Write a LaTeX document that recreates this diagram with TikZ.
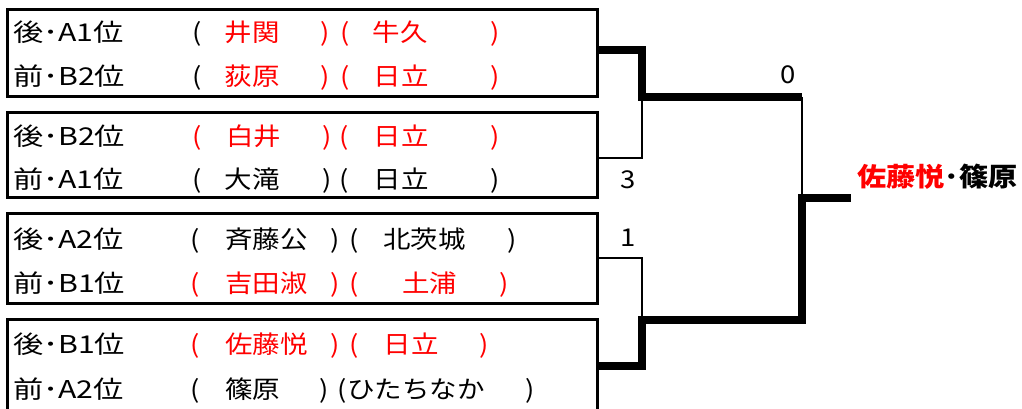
\documentclass[tikz,border=0pt]{standalone}
\usepackage{fontspec}
\usepackage{graphicx}
\setmainfont{Noto Sans CJK JP}[FakeStretch=1.12]
\usetikzlibrary{calc}
\definecolor{jred}{RGB}{255,0,0}
\newcommand{\widelab}[1]{\scalebox{1.1}[1]{#1}}
\begin{document}
\begin{tikzpicture}[x=0.75pt,y=-0.75pt,
  t/.style={inner sep=0pt, outer sep=0pt, text height=16.5pt, text depth=2.25pt, font=\fontsize{18.4pt}{22pt}\selectfont},
  lab/.style={t, anchor=west},
  r/.style={text=jred},
  box/.style={draw, line width=2.25pt, inner sep=0pt, outer sep=0pt, minimum width=442.5pt, anchor=north west},
  win/.style={line width=6pt},
  thinl/.style={line width=1.9pt}]
\useasboundingbox (0,0) rectangle (1022,409);
% boxes
\node[box, minimum height=65.25pt] (b1) at (7,10) {};
\node[box, minimum height=63.75pt] (b2) at (7,113) {};
\node[box, minimum height=67.5pt] (b3) at (7,214) {};
\node[box, minimum height=69pt] (b4) at (7,320) {};
% junctions
\coordinate (j1) at (642,97);
\coordinate (j2) at (642,320);
\coordinate (f1) at (802,97);
\coordinate (f2) at (802,320);
\coordinate (fm) at (802,198);
\coordinate (out) at (851,198);
% connectors
\draw[thinl] ($(b2.east)+(0,2.5)$) -| (j1);
\draw[thinl] ($(b3.east)+(0,-1)$) -| (j2);
\draw[thinl] (f1) -- (fm);
\draw[win] ($(b1.east)+(0,-3.5)$) -| (j1) -- (f1);
\draw[win] (b4.east) -| (j2) -- (f2) -- (fm) -- (out);
% scores
\node[t] (s0) at (788,74) {0};
\node[t] (s3) at (628,179) {3};
\node[t] (s1) at (628,237) {1};
% winner
\node[t, font=\fontsize{19.5pt}{24pt}\selectfont\bfseries] (w) at (937.5,177.5) {\textcolor{jred}{佐藤悦}･篠原};
% box 1
\node[lab] (r11l) at (13,32) {\widelab{後･A1位}};
\node[t] (r11a) at (197.5,32) {(};
\node[t,r] (r11n) at (252,32) {井関};
\node[t,r] (r11c) at (325.5,32) {)};
\node[t,r] (r11o) at (345.5,32) {(};
\node[t,r] (r11s) at (400,32) {牛久};
\node[t,r] (r11e) at (495,32) {)};
\node[lab] (r12l) at (13,76) {\widelab{前･B2位}};
\node[t] (r12a) at (197.5,76) {(};
\node[t,r] (r12n) at (252,76) {荻原};
\node[t,r] (r12c) at (325.5,76) {)};
\node[t,r] (r12o) at (345.5,76) {(};
\node[t,r] (r12s) at (401,76) {日立};
\node[t,r] (r12e) at (495,76) {)};
% box 2
\node[lab] (r21l) at (13,136) {\widelab{後･B2位}};
\node[t,r] (r21a) at (197.5,136) {(};
\node[t,r] (r21n) at (253.5,136) {白井};
\node[t,r] (r21c) at (327.5,136) {)};
\node[t,r] (r21o) at (344.5,136) {(};
\node[t,r] (r21s) at (401,136) {日立};
\node[t,r] (r21e) at (495,136) {)};
\node[lab] (r22l) at (13,179) {\widelab{前･A1位}};
\node[t] (r22a) at (197.5,179) {(};
\node[t] (r22n) at (252,179) {大滝};
\node[t] (r22c) at (327.5,179) {)};
\node[t] (r22o) at (344.5,179) {(};
\node[t] (r22s) at (401,179) {日立};
\node[t] (r22e) at (495,179) {)};
% box 3
\node[lab] (r31l) at (13,239) {\widelab{後･A2位}};
\node[t] (r31a) at (195.5,239) {(};
\node[t] (r31n) at (266.5,239) {斉藤公};
\node[t] (r31c) at (335.5,239) {)};
\node[t] (r31o) at (354.5,239) {(};
\node[t] (r31s) at (424.5,239) {北茨城};
\node[t] (r31e) at (512.5,239) {)};
\node[lab] (r32l) at (13,283) {\widelab{前･B1位}};
\node[t,r] (r32a) at (195.5,283) {(};
\node[t,r] (r32n) at (266.5,283) {吉田淑};
\node[t,r] (r32c) at (335.5,283) {)};
\node[t,r] (r32o) at (354.5,283) {(};
\node[t,r] (r32s) at (429.5,283) {土浦};
\node[t,r] (r32e) at (504.5,283) {)};
% box 4
\node[lab] (r41l) at (13,344) {\widelab{後･B1位}};
\node[t,r] (r41a) at (195.5,344) {(};
\node[t,r] (r41n) at (266.5,344) {佐藤悦};
\node[t,r] (r41c) at (335.5,344) {)};
\node[t,r] (r41o) at (354.5,344) {(};
\node[t,r] (r41s) at (411,344) {日立};
\node[t,r] (r41e) at (484.5,344) {)};
\node[lab] (r42l) at (13,389) {\widelab{前･A2位}};
\node[t] (r42a) at (195.5,389) {(};
\node[t] (r42n) at (252.5,389) {篠原};
\node[t] (r42c) at (324.5,389) {)};
\node[t] (r42o) at (342.5,389) {(};
\node[t] (r42s) at (416,389) {ひたちなか};
\node[t] (r42e) at (530.5,389) {)};
\end{tikzpicture}
\end{document}
